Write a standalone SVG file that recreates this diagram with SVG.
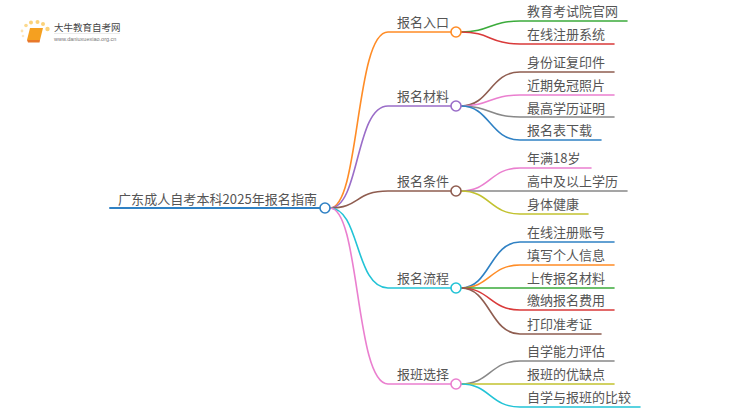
<svg xmlns="http://www.w3.org/2000/svg" width="750" height="410" viewBox="0 0 750 410">
<style>
text{font-family:"Noto Sans CJK SC","Liberation Sans",sans-serif;fill:#555;font-size:13px}
.c path{fill:none;stroke-width:1.6;stroke-linecap:round}
circle{fill:#fff;stroke-width:1.6}
</style>
<rect width="750" height="410" fill="#fff"/>
<g id="logo">
<circle cx="22" cy="31" r="1.4" style="fill:#fce3b0" stroke="none"/>
<circle cx="26" cy="25.500" r="1.800" style="fill:#fbd98f" stroke="none"/>
<circle cx="31" cy="22.500" r="2" style="fill:#fbd27a" stroke="none"/>
<circle cx="37.500" cy="22" r="2" style="fill:#fbd27a" stroke="none"/>
<circle cx="43" cy="24" r="2" style="fill:#fbd27a" stroke="none"/>
<circle cx="47.500" cy="29" r="2.200" style="fill:#fbd27a" stroke="none"/>
<circle cx="23" cy="36" r="1.300" style="fill:#fde8c4" stroke="none"/>
<path d="M30 28H43L40 40H27Z" fill="#f5a020"/>
<path d="M27 40H40L39.500 42.500H28Z" fill="#e8782a"/>
<text x="54" y="31" style="font-size:9.500px;fill:#444">大牛教育自考网</text>
<path d="M54 33.500H120" stroke="#ddd" stroke-width="0.600"/>
<text x="54" y="41" style="font-size:5.500px;fill:#777;font-family:'Liberation Sans',sans-serif">www.daniuxuexiao.org.cn</text>
</g>
<g id="connectors" class="c">
<path d="M110 208H320" stroke="#2f81c4" style="stroke-width:2"/>
<path d="M330 208C360 208 355 32 388 32H451" stroke="#ff8c26"/>
<path d="M330 208C360 208 355 106 388 106H451" stroke="#9a6dc8"/>
<path d="M330 208C360 208 355 191 388 191H451" stroke="#8f5d50"/>
<path d="M330 208C360 208 355 288 388 288H451" stroke="#22c3d6"/>
<path d="M330 208C360 208 355 384 388 384H451" stroke="#ea7fcf"/>
<path d="M461 32C490 32 490 21 520 21H627" stroke="#3bab3b"/>
<path d="M461 32C490 32 490 44 520 44H614" stroke="#d93a3a"/>
<path d="M461 106C490 106 490 72 520 72H614" stroke="#8f5d50"/>
<path d="M461 106C490 106 490 95 520 95H614" stroke="#ea7fcf"/>
<path d="M461 106C490 106 490 117 520 117H614" stroke="#888"/>
<path d="M461 106C490 106 490 140 520 140H601" stroke="#2f81c4"/>
<path d="M461 191C490 191 490 168 520 168H591" stroke="#ea7fcf"/>
<path d="M461 191H627" stroke="#888"/>
<path d="M461 191C490 191 490 214 520 214H588" stroke="#c2c22f"/>
<path d="M461 288C490 288 490 242 520 242H614" stroke="#2f81c4"/>
<path d="M461 288C490 288 490 265 520 265H614" stroke="#ff8c26"/>
<path d="M461 288H614" stroke="#3bab3b"/>
<path d="M461 288C490 288 490 310 520 310H614" stroke="#d93a3a"/>
<path d="M461 288C490 288 490 334 520 334H601" stroke="#8f5d50"/>
<path d="M461 384C490 384 490 361 520 361H614" stroke="#888"/>
<path d="M461 384H614" stroke="#c2c22f"/>
<path d="M461 384C490 384 490 407 520 407H640" stroke="#22c3d6"/>
</g>
<g id="root"><text x="118" y="204" textLength="199">广东成人自考本科2025年报名指南</text><circle cx="325" cy="208" r="5" stroke="#2f81c4"/></g>
<g id="b1"><text x="397" y="27">报名入口</text><circle cx="456" cy="32" r="5" stroke="#ff8c26"/></g>
<g id="b2"><text x="397" y="101">报名材料</text><circle cx="456" cy="106" r="5" stroke="#9a6dc8"/></g>
<g id="b3"><text x="397" y="186">报名条件</text><circle cx="456" cy="191" r="5" stroke="#8f5d50"/></g>
<g id="b4"><text x="397" y="283">报名流程</text><circle cx="456" cy="288" r="5" stroke="#22c3d6"/></g>
<g id="b5"><text x="397" y="379">报班选择</text><circle cx="456" cy="384" r="5" stroke="#ea7fcf"/></g>
<g id="l1"><text x="527" y="16">教育考试院官网</text></g>
<g id="l2"><text x="527" y="39">在线注册系统</text></g>
<g id="l3"><text x="527" y="67">身份证复印件</text></g>
<g id="l4"><text x="527" y="90">近期免冠照片</text></g>
<g id="l5"><text x="527" y="113">最高学历证明</text></g>
<g id="l6"><text x="527" y="135">报名表下载</text></g>
<g id="l7"><text x="527" y="163">年满18岁</text></g>
<g id="l8"><text x="527" y="186">高中及以上学历</text></g>
<g id="l9"><text x="527" y="209">身体健康</text></g>
<g id="l10"><text x="527" y="237">在线注册账号</text></g>
<g id="l11"><text x="527" y="260">填写个人信息</text></g>
<g id="l12"><text x="527" y="283">上传报名材料</text></g>
<g id="l13"><text x="527" y="305">缴纳报名费用</text></g>
<g id="l14"><text x="527" y="329">打印准考证</text></g>
<g id="l15"><text x="527" y="356">自学能力评估</text></g>
<g id="l16"><text x="527" y="379">报班的优缺点</text></g>
<g id="l17"><text x="527" y="402">自学与报班的比较</text></g>
</svg>
